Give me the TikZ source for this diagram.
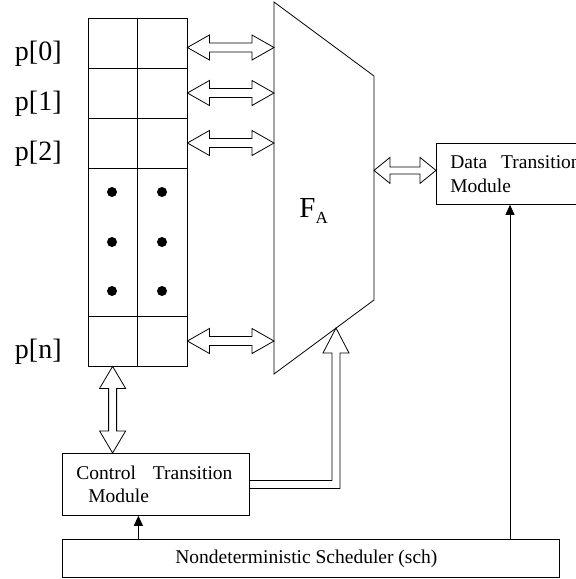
\documentclass[tikz,border=0pt]{standalone}
\usepackage{fontspec}
\setmainfont{Liberation Serif}
\usetikzlibrary{arrows.meta,positioning,calc}

% hollow two-headed bus: from, to, head length, head half width, shaft half width
\newcommand{\hbus}[5]{\draw let \p1=(#1), \p2=(#2) in
  (\p1) -- (\x1+#3pt,\y1+#4pt) -- (\x1+#3pt,\y1+#5pt) -- (\x2-#3pt,\y2+#5pt) -- (\x2-#3pt,\y2+#4pt) -- (\p2)
  -- (\x2-#3pt,\y2-#4pt) -- (\x2-#3pt,\y2-#5pt) -- (\x1+#3pt,\y1-#5pt) -- (\x1+#3pt,\y1-#4pt) -- cycle;}
\newcommand{\vbus}[5]{\draw let \p1=(#1), \p2=(#2) in
  (\p1) -- (\x1+#4pt,\y1-#3pt) -- (\x1+#5pt,\y1-#3pt) -- (\x2+#5pt,\y2+#3pt) -- (\x2+#4pt,\y2+#3pt) -- (\p2)
  -- (\x2-#4pt,\y2+#3pt) -- (\x2-#5pt,\y2+#3pt) -- (\x1-#5pt,\y1-#3pt) -- (\x1-#4pt,\y1-#3pt) -- cycle;}

\begin{document}
\begin{tikzpicture}[x=1pt, y=-1pt, node distance=50pt, line width=0.8pt]
\tikzstyle{cell} = [draw, minimum width=99pt, minimum height=50pt, inner sep=0pt]
\tikzstyle{reg} = [font=\fontsize{28}{30}\selectfont, anchor=base east, inner sep=0pt]
\tikzstyle{module} = [draw, font=\fontsize{19.5}{23.5}\selectfont, align=left, inner xsep=14pt, minimum height=62pt]
\tikzstyle{dot} = [circle, fill=black, inner sep=0pt, minimum size=10pt]
\tikzstyle{sig} = [-{Triangle[length=10pt, width=9pt]}]

\useasboundingbox (0,0) rectangle (576,579);

% register p[0] .. p[n]
\node (r0) [cell] at (137.5,43) {};
\node (r1) [cell, below of=r0] {};
\node (r2) [cell, below of=r1] {};
\node (rd) [cell, minimum height=148pt] at (137.5,242) {};
\node (rn) [cell] at (137.5,341) {};
\draw (r0.north) -- (rn.south);
\foreach \y in {192,242,291} {
  \node (dl\y) [dot] at (112,\y) {};
  \node (dr\y) [dot] at (162,\y) {};
}

\node (l0) [reg] at (62,60) {p[0]};
\node (l1) [reg] at (62,110) {p[1]};
\node (l2) [reg] at (62,160) {p[2]};
\node (ln) [reg] at (62,358) {p[n]};

% F_A
\coordinate (faTL) at (274,2);
\coordinate (faTR) at (374,76);
\coordinate (faBR) at (374,300);
\coordinate (faBL) at (274,374);
\coordinate (faIn) at (336,328);
\draw (faTL) -- (faTR) -- (faBR) -- (faBL) -- cycle;
\node (fa) [font=\fontsize{29}{30}\selectfont, anchor=base west, inner sep=0pt] at (299,217) {F\raisebox{-6pt}{\fontsize{17}{17}\selectfont A}};

% modules
\node (dt) [module, text width=136pt, minimum height=61pt, anchor=north west] at (436,143) {Data\hspace{14pt}Transition\\Module};
\node (ctl) [module, text width=159pt, anchor=north west] at (62,453) {Control\hspace{17pt}Transition\\\hspace*{12pt}Module};
\node (sch) [draw, font=\fontsize{19.5}{23.5}\selectfont, minimum width=497pt, minimum height=38pt, anchor=north west] at (62,539) {Nondeterministic Scheduler (sch)\kern9pt};

% hollow buses
\hbus{[yshift=-4.5pt]r0.east}{[yshift=-4.5pt]r0.east -| faTL}{22}{12.5}{4.5}
\hbus{r1.east}{r1.east -| faTL}{22}{12.5}{4.5}
\hbus{r2.east}{r2.east -| faTL}{22}{12.5}{4.5}
\hbus{rn.east}{rn.east -| faTL}{22}{12.5}{4.5}
\hbus{[yshift=3.5pt]dt.west -| faTR}{[yshift=3.5pt]dt.west}{16}{13}{3.5}
\vbus{[xshift=25pt]rn.south west}{[xshift=25pt]rn.south west |- ctl.north}{22}{13}{4}
\draw let \p1=(ctl.east), \p2=(faIn) in
  (\x1,\y1+4pt) -- (\x2-4pt,\y1+4pt) -- (\x2-4pt,\y2-25pt) -- (\x2-13pt,\y2-25pt) -- (\p2)
  -- (\x2+13pt,\y2-25pt) -- (\x2+4pt,\y2-25pt) -- (\x2+4pt,\y1-4pt) -- (\x1,\y1-4pt);

% scheduler signals
\draw [sig] ([xshift=-17.5pt]ctl.south |- sch.north) -- ([xshift=-17.5pt]ctl.south);
\draw [sig] ([xshift=74pt]dt.south west |- sch.north) -- ([xshift=74pt]dt.south west);
\end{tikzpicture}
\end{document}
